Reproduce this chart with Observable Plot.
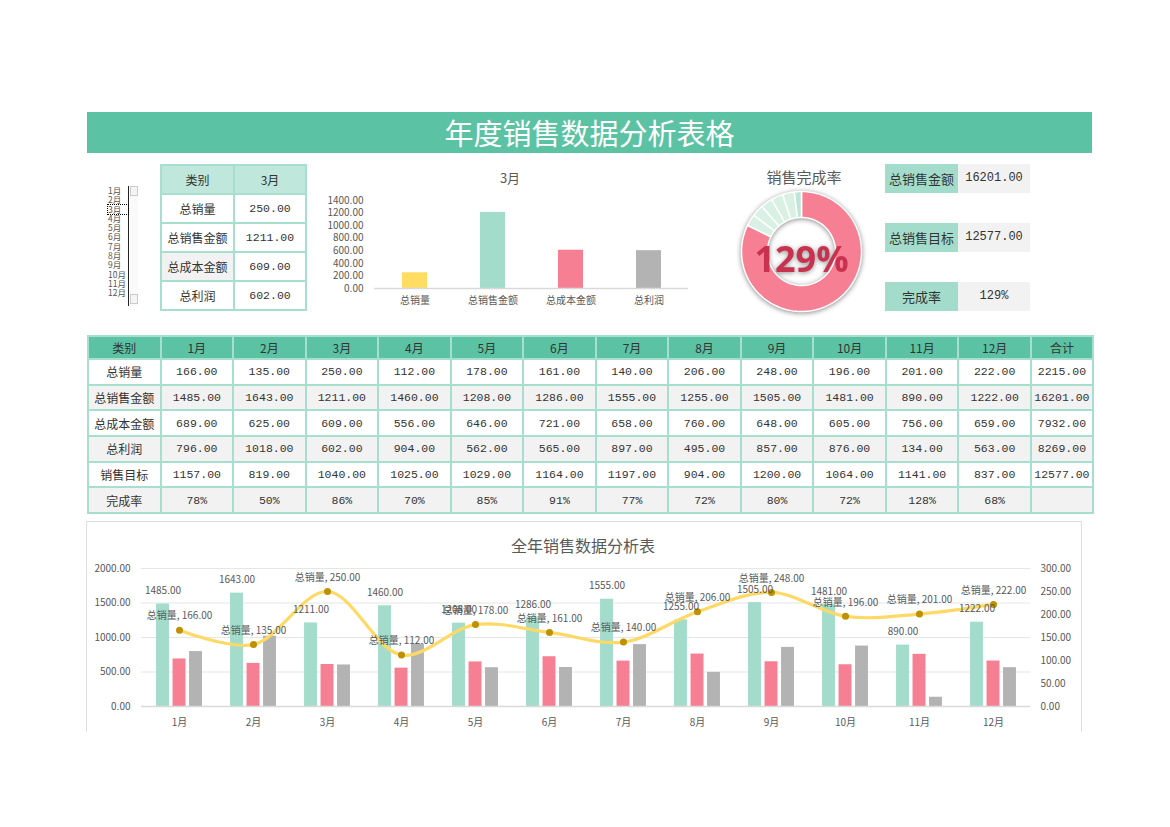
<!DOCTYPE html>
<html><head><meta charset="utf-8">
<script src="https://cdn.jsdelivr.net/npm/d3@7"></script>
<script src="https://cdn.jsdelivr.net/npm/@observablehq/plot@0.6"></script>
<style>
body{margin:0;background:#fff;}
#page{position:relative;width:1170px;height:827px;overflow:hidden;font-family:"Noto Sans CJK SC","Noto Sans",sans-serif;color:#333;}
.abs{position:absolute;}
table{border-collapse:collapse;table-layout:fixed;}
td{text-align:center;padding:0;border:2px solid #a6dfcd;font-size:12px;white-space:nowrap;overflow:hidden;}
.num{font-family:"Liberation Mono","DejaVu Sans Mono",monospace;font-size:11.5px;}
.kl{background:#a3dccb;text-align:center;font-size:13px;line-height:29px;}
.kv{background:#f2f2f2;text-align:center;font-family:"Liberation Mono",monospace;font-size:12px;line-height:29px;}
</style></head><body>
<div id="page"></div>
<script>
// ---------------- data ----------------
const months = ["1月","2月","3月","4月","5月","6月","7月","8月","9月","10月","11月","12月"];
const categories = ["总销量","总销售金额","总成本金额","总利润"];
const salesQty = [166,135,250,112,178,161,140,206,248,196,201,222];
const salesAmt = [1485,1643,1211,1460,1208,1286,1555,1255,1505,1481,890,1222];
const costAmt = [689,625,609,556,646,721,658,760,648,605,756,659];
const profit = [796,1018,602,904,562,565,897,495,857,876,134,563];
const target = [1157,819,1040,1025,1029,1164,1197,904,1200,1064,1141,837];
const rateText = ["78%","50%","86%","70%","85%","91%","77%","72%","80%","72%","128%","68%"];
const totals = [2215,16201,7932,8269,12577];
const selectedMonth = "3月";
const kpiLabels = ["总销售金额","总销售目标","完成率"];
const kpiValues = ["16201.00","12577.00","129%"];
const completion = 129;
const donutRest = [5,5,5,5,5,3];
const leftTicks = [0,500,1000,1500,2000];
const rightTicks = [0,50,100,150,200,250,300];
const miniTicks = [0,200,400,600,800,1000,1200,1400];

// styles (kept apart from data)
const catColors = ["#ffdd63","#a3dccb","#f77f93","#b3b3b3"];
const restColors = ["#d9f1e5","#d9f1e5","#d9f1e5","#d9f1e5","#d9f1e5","#bfe5d9"];
const FONT = "'Noto Sans CJK SC','Noto Sans',sans-serif";

const page = document.getElementById("page");
function add(html, css){const d=document.createElement("div");d.className="abs";d.style.cssText=css;d.innerHTML=html;page.appendChild(d);return d;}
function place(node, left, top){node.style.position="absolute";node.style.left=left+"px";node.style.top=top+"px";page.appendChild(node);return node;}
const f2 = v => v.toFixed(2);

// title bar
add("年度销售数据分析表格","left:87px;top:112px;width:1005px;height:41px;background:#5cc2a4;color:#fff;font-size:29px;line-height:41px;text-align:center;");

// listbox
{
  let h = "";
  months.forEach((m,i)=>{
    const sel = m===selectedMonth;
    h += `<div style="height:9.3px;line-height:9.3px;font-size:8.5px;color:#555;${sel?'outline:1px dotted #000;':''}">${m}</div>`;
  });
  add(h,"left:106px;top:186px;width:20px;height:120px;border-right:1.5px solid #222;padding-left:2px;");
  add('<div style="height:8px;border:1px solid #ccc;background:#f4f4f4"></div><div style="height:98px"></div><div style="height:8px;border:1px solid #ccc;background:#f4f4f4"></div>',"left:130px;top:186px;width:8px;height:120px;background:#fafafa;");
}

// small table
{
  const i = months.indexOf(selectedMonth);
  const vals = [salesQty[i], salesAmt[i], costAmt[i], profit[i]];
  let h = `<table style="width:145px"><colgroup><col style="width:73px"><col style="width:72px"></colgroup>`;
  h += `<tr style="height:29px;background:#bfe7db"><td>类别</td><td>${selectedMonth}</td></tr>`;
  categories.forEach((c,k)=>{
    h += `<tr style="height:29px"><td style="${k===2?'background:#f2f2f2':''}">${c}</td><td class="num">${f2(vals[k])}</td></tr>`;
  });
  h += "</table>";
  add(h,"left:160px;top:164px;");
}

// mini bar chart
{
  const i = months.indexOf(selectedMonth);
  const vals = [salesQty[i], salesAmt[i], costAmt[i], profit[i]];
  const rows = categories.map((c,k)=>({cat:c, v:vals[k]}));
  add(selectedMonth,"left:460px;top:168px;width:100px;text-align:center;font-size:13px;color:#595959;");
  const p = Plot.plot({
    width: 390, height: 155,
    marginLeft: 64, marginRight: 12, marginTop: 40, marginBottom: 27,
    style:{background:"transparent", color:"#595959", fontSize:"10px", fontFamily:FONT},
    x:{domain:categories, paddingInner:0.68, paddingOuter:0.34, label:null, tickSize:0, tickPadding:8},
    y:{domain:[0,1400], ticks:miniTicks, tickFormat:d=>d.toFixed(2), tickSize:0, tickPadding:11, label:null},
    color:{domain:categories, range:catColors},
    marks:[
      Plot.barY(rows,{x:"cat", y:"v", fill:"cat"}),
      Plot.ruleY([0],{stroke:"#d9d9d9", strokeWidth:1.5})
    ]
  });
  place(p, 310, 160);
}

// donut
{
  add("销售完成率","left:744px;top:166px;width:120px;text-align:center;font-size:15px;color:#595959;");
  const total = completion + d3.sum(donutRest);
  const R0 = 34, R1 = 60;
  const segs = [{v:completion, c:"#f77f93"}].concat(donutRest.map((v,k)=>({v, c:restColors[k]})));
  let acc = 0;
  const marks = [];
  segs.forEach(s=>{
    const a0 = acc/total*2*Math.PI, a1 = (acc+s.v)/total*2*Math.PI;
    acc += s.v;
    const n = Math.max(4, Math.ceil((a1-a0)/0.03));
    const pts = [];
    for (let j=0;j<=n;j++){const a=a0+(a1-a0)*j/n; pts.push({x:R1*Math.sin(a), y:R1*Math.cos(a)});}
    for (let j=n;j>=0;j--){const a=a0+(a1-a0)*j/n; pts.push({x:R0*Math.sin(a), y:R0*Math.cos(a)});}
    marks.push(Plot.line(pts,{x:"x", y:"y", fill:s.c, stroke:"#fff", strokeWidth:1.5, curve:"linear-closed"}));
  });
  marks.push(Plot.text([completion],{text:d=>d+"%", frameAnchor:"middle", dy:9, fontSize:36, fontWeight:"bold", fill:"#c8324e"}));
  const p = Plot.plot({
    width:140, height:140, margin:0,
    style:{background:"transparent", fontFamily:"'Open Sans','Noto Sans',sans-serif", overflow:"visible"},
    x:{domain:[-70,70], axis:null}, y:{domain:[-70,70], axis:null},
    marks
  });
  p.style.filter = "drop-shadow(0px 1px 2.5px rgba(0,0,0,0.45))";
  place(p, 731, 181);
}

// KPI boxes
kpiLabels.forEach((l,k)=>{
  const top = [164,223,282][k];
  add(l,`left:885px;top:${top}px;width:73px;height:29px;`).className="abs kl";
  add(kpiValues[k],`left:958px;top:${top}px;width:72px;height:29px;`).className="abs kv";
});

// main table
{
  const rows = [
    ["总销量", salesQty.map(f2), f2(totals[0])],
    ["总销售金额", salesAmt.map(f2), f2(totals[1])],
    ["总成本金额", costAmt.map(f2), f2(totals[2])],
    ["总利润", profit.map(f2), f2(totals[3])],
    ["销售目标", target.map(f2), f2(totals[4])],
    ["完成率", rateText, ""]
  ];
  let h = `<table style="width:1005px"><colgroup>${'<col style="width:72.54px">'.repeat(13)}<col style="width:62px"></colgroup>`;
  h += `<tr style="height:23px;background:#5cc2a4"><td>类别</td>${months.map(m=>`<td>${m}</td>`).join("")}<td>合计</td></tr>`;
  rows.forEach((r,k)=>{
    h += `<tr style="height:25.7px;background:${k%2?'#f2f2f2':'#fff'}"><td>${r[0]}</td>${r[1].map(v=>`<td class="num">${v}</td>`).join("")}<td class="num">${r[2]}</td></tr>`;
  });
  h += "</table>";
  add(h,"left:87px;top:335px;");
}

// bottom combo chart
{
  add("","left:86px;top:521px;width:994px;height:210px;border:1px solid #dedede;border-bottom:none;");
  add("全年销售数据分析表","left:433px;top:533px;width:300px;text-align:center;font-size:16px;color:#595959;");
  const k = 2000/300;
  const data = months.map((m,i)=>({m, qty:salesQty[i], amt:salesAmt[i], cost:costAmt[i], prof:profit[i]}));
  const bw = 889/12;
  const p = Plot.plot({
    width:995, height:178,
    marginLeft:55, marginRight:51, marginTop:13, marginBottom:27,
    style:{background:"transparent", color:"#595959", fontSize:"10px", fontFamily:FONT, overflow:"visible"},
    x:{domain:months, padding:0, label:null, tickSize:0, tickPadding:12},
    y:{domain:[0,2000], ticks:leftTicks, tickFormat:d=>d.toFixed(2), tickSize:0, tickPadding:11, label:null},
    marks:[
      Plot.ruleY(leftTicks,{stroke:"#e6e6e6", strokeWidth:1.2}),
      Plot.barY(data,{x:"m", y:"amt", fill:"#a3dccb", insetLeft:bw/2-23, insetRight:bw/2+10}),
      Plot.barY(data,{x:"m", y:"cost", fill:"#f77f93", insetLeft:bw/2-6.5, insetRight:bw/2-6.5}),
      Plot.barY(data,{x:"m", y:"prof", fill:"#b3b3b3", insetLeft:bw/2+10, insetRight:bw/2-23}),
      Plot.ruleY([0],{stroke:"#d9d9d9", strokeWidth:1.5}),
      Plot.line(data,{x:"m", y:d=>d.qty*k, curve:"catmull-rom", stroke:"#ffd966", strokeWidth:3.2}),
      Plot.dot(data,{x:"m", y:d=>d.qty*k, r:3.5, fill:"#bf9000", stroke:"none"}),
      Plot.text(data,{x:"m", y:"amt", text:d=>f2(d.amt), dx:-16.5, dy:-13, fill:"#595959"}),
      Plot.text(data,{x:"m", y:d=>d.qty*k, text:d=>"总销量, "+f2(d.qty), dy:-14, fill:"#595959"}),
      Plot.text(rightTicks,{y:d=>d*k, text:d=>d.toFixed(2), frameAnchor:"right", textAnchor:"start", dx:10, fill:"#595959"})
    ]
  });
  place(p, 86, 555);
}
</script>
</body></html>
